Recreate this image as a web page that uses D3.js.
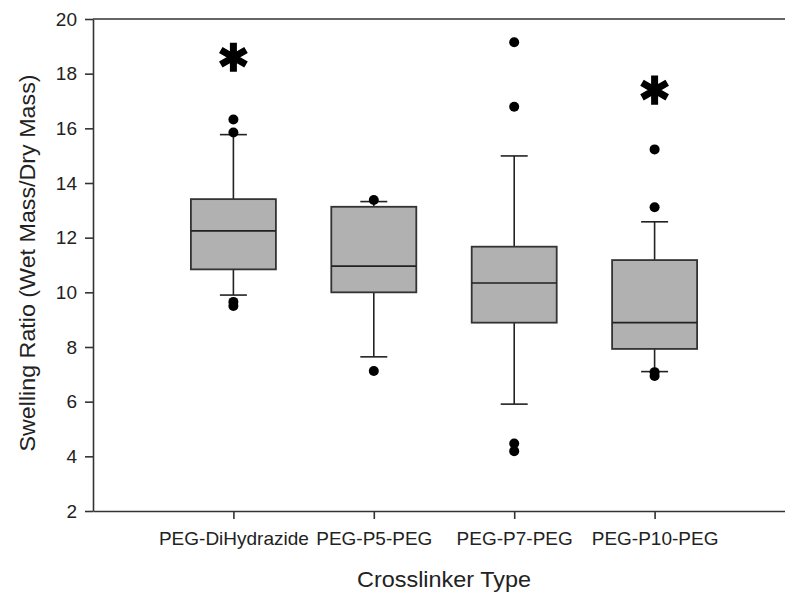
<!DOCTYPE html>
<html>

<head>
    <meta charset="UTF-8">
    <title>Swelling ratio</title>
    <style>
        body {
            margin: 0;
            background: #fff;
            overflow: hidden;
        }

        text {
            font-family: "Liberation Sans", Arial, sans-serif;
            fill: #222;
        }

        .axis path,
        .axis line {
            stroke: #333;
            stroke-width: 1.6px;
        }

        .axis text {
            font-size: 19px;
        }

        .box {
            fill: #b1b1b1;
            stroke: #333;
            stroke-width: 1.8px;
        }

        .whisker {
            stroke: #222;
            stroke-width: 1.6px;
        }
    </style>
</head>

<body>
    <div class="chart"></div>

    <script src="https://cdn.jsdelivr.net/npm/d3@7"></script>

    <script>
        // categories
        const categories = ['PEG-DiHydrazide', 'PEG-P5-PEG', 'PEG-P7-PEG', 'PEG-P10-PEG'];

        // box statistics
        const q1 = [10.84, 10.0, 8.89, 7.93];
        const median = [12.25, 10.96, 10.34, 8.89];
        const q3 = [13.41, 13.13, 11.67, 11.18];
        const whiskerLow = [9.9, 7.64, 5.91, 7.1];
        const whiskerHigh = [15.77, 13.32, 14.99, 12.58];

        // outlying points
        const outliers = [
            [16.32, 15.85, 9.65, 9.5],
            [13.38, 7.12],
            [19.15, 16.79, 4.47, 4.19],
            [15.23, 13.11, 7.08, 6.94]
        ];

        // significance markers
        const significance = [18.6, null, null, 17.4];

        const yTicks = [2, 4, 6, 8, 10, 12, 14, 16, 18, 20];

        const margin = {
            top: 19,
            right: 0,
            bottom: 84,
            left: 93
        };
        const width = 702;
        const height = 492;

        const svg = d3.select('.chart')
            .append('svg')
            .attr('width', 785)
            .attr('height', 595)
            .style('display', 'block');

        const g = svg.append('g')
            .attr('transform', `translate(${ margin.left },${ margin.top })`);

        const x = d3.scalePoint()
            .domain(categories)
            .range([0, width])
            .padding(1);

        const y = d3.scaleLinear()
            .domain([2, 20])
            .range([height, 0]);

        const boxWidth = 85;
        const capWidth = 27;

        // frame top
        g.append('line')
            .attr('stroke', '#333')
            .attr('stroke-width', 1.6)
            .attr('x1', 0).attr('x2', width)
            .attr('y1', y(20)).attr('y2', y(20));

        const rows = categories.map((c, i) => ({
            cat: c,
            q1: q1[i],
            med: median[i],
            q3: q3[i],
            lo: whiskerLow[i],
            hi: whiskerHigh[i],
            out: outliers[i],
            sig: significance[i]
        }));

        const boxes = g.append('g')
            .selectAll('g')
            .data(rows)
            .enter()
            .append('g')
            .attr('transform', d => `translate(${ x(d.cat) },0)`);

        // whisker stems
        boxes.append('line')
            .attr('class', 'whisker')
            .attr('x1', 0).attr('x2', 0)
            .attr('y1', d => y(d.hi))
            .attr('y2', d => y(d.q3));

        boxes.append('line')
            .attr('class', 'whisker')
            .attr('x1', 0).attr('x2', 0)
            .attr('y1', d => y(d.q1))
            .attr('y2', d => y(d.lo));

        // caps
        boxes.append('line')
            .attr('class', 'whisker')
            .attr('x1', -capWidth / 2).attr('x2', capWidth / 2)
            .attr('y1', d => y(d.hi))
            .attr('y2', d => y(d.hi));

        boxes.append('line')
            .attr('class', 'whisker')
            .attr('x1', -capWidth / 2).attr('x2', capWidth / 2)
            .attr('y1', d => y(d.lo))
            .attr('y2', d => y(d.lo));

        // box
        boxes.append('rect')
            .attr('class', 'box')
            .attr('x', -boxWidth / 2)
            .attr('width', boxWidth)
            .attr('y', d => y(d.q3))
            .attr('height', d => y(d.q1) - y(d.q3));

        // median
        boxes.append('line')
            .attr('class', 'whisker')
            .attr('x1', -boxWidth / 2).attr('x2', boxWidth / 2)
            .attr('y1', d => y(d.med))
            .attr('y2', d => y(d.med));

        // outliers
        boxes.selectAll('circle')
            .data(d => d.out)
            .enter()
            .append('circle')
            .attr('cx', 0)
            .attr('cy', d => y(d))
            .attr('r', 5)
            .attr('fill', '#000');

        // asterisks
        const star = d3.symbol().type(d3.symbolAsterisk).size(600);
        boxes.filter(d => d.sig !== null)
            .append('path')
            .attr('d', star)
            .attr('transform', d => `translate(0,${ y(d.sig) })`)
            .attr('fill', 'none')
            .attr('stroke', '#000')
            .attr('stroke-width', 7);

        // axes
        g.append('g')
            .attr('class', 'axis y-axis')
            .call(d3.axisLeft(y)
                .tickValues(yTicks)
                .tickSize(8)
                .tickPadding(8)
                .tickSizeOuter(0));

        g.append('g')
            .attr('class', 'axis x-axis')
            .attr('transform', `translate(0,${ height })`)
            .call(d3.axisBottom(x)
                .tickSize(8)
                .tickPadding(13)
                .tickSizeOuter(0));

        // axis titles
        g.append('text')
            .attr('x', x.step() * 2.5)
            .attr('y', height + 76)
            .attr('text-anchor', 'middle')
            .attr('textLength', 174)
            .attr('lengthAdjust', 'spacingAndGlyphs')
            .style('font-size', '22px')
            .text('Crosslinker Type');

        g.append('text')
            .attr('transform', `translate(${ 35 - margin.left },${ height / 2 - 2 }) rotate(-90)`)
            .attr('text-anchor', 'middle')
            .attr('textLength', 377)
            .attr('lengthAdjust', 'spacingAndGlyphs')
            .style('font-size', '22px')
            .text('Swelling Ratio (Wet Mass/Dry Mass)');
    </script>
</body>

</html>
